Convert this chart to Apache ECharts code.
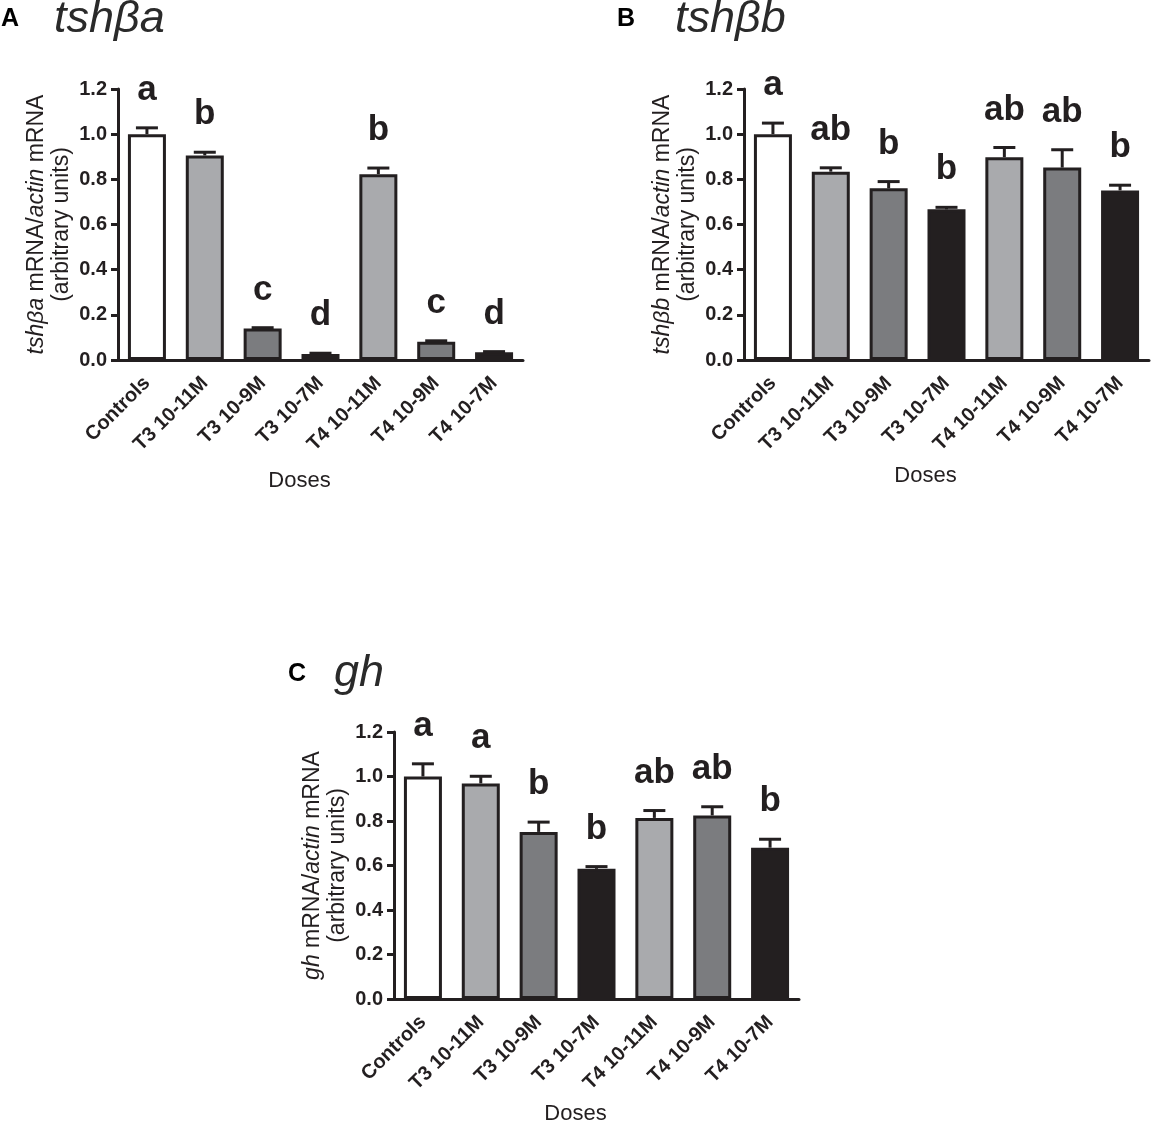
<!DOCTYPE html>
<html lang="en">
<head>
  <meta charset="UTF-8">
  <title>tshba tshbb gh</title>
  <script src="https://cdn.jsdelivr.net/npm/echarts@6/dist/echarts.min.js"></script>
  <style>
    html, body { margin: 0; padding: 0; background: #fff; }
  </style>
</head>
<body>
  <div id="chart" style="width: 1153px; height: 1126px;"></div>

  <script>
    // categories (doses)
    const doses = ['Controls', 'T3 10-11M', 'T3 10-9M', 'T3 10-7M', 'T4 10-11M', 'T4 10-9M', 'T4 10-7M']
    const yTicks = [0, 0.2, 0.4, 0.6, 0.8, 1.0, 1.2]

    // A: tshβa  (mean and mean + SEM)
    const tshbaMean = [1.00, 0.906, 0.139, 0.027, 0.823, 0.081, 0.034]
    const tshbaUpper = [1.028, 0.920, 0.143, 0.030, 0.850, 0.085, 0.037]
    const tshbaLetters = ['a', 'b', 'c', 'd', 'b', 'c', 'd']

    // B: tshβb
    const tshbbMean = [1.00, 0.834, 0.760, 0.667, 0.898, 0.852, 0.751]
    const tshbbUpper = [1.049, 0.851, 0.790, 0.676, 0.941, 0.931, 0.774]
    const tshbbLetters = ['a', 'ab', 'b', 'b', 'ab', 'ab', 'b']

    // C: gh
    const ghMean = [1.00, 0.969, 0.751, 0.585, 0.814, 0.825, 0.680]
    const ghUpper = [1.057, 1.001, 0.795, 0.595, 0.847, 0.864, 0.718]
    const ghLetters = ['a', 'a', 'b', 'b', 'ab', 'ab', 'b']

    const ink = '#231f20'
    const font = '"Liberation Sans", Arial, Helvetica, sans-serif'
    const barFill = ['#ffffff', '#a9aaad', '#7b7c7f', '#231f20', '#a9aaad', '#7b7c7f', '#231f20']

    let myChart = echarts.init(document.querySelector('#chart'))

    // one panel = grid + axes + bars + error bars/letters
    const panels = [
      { grid: { left: 118, top: 89, width: 405, height: 271 }, mean: tshbaMean, upper: tshbaUpper, letters: tshbaLetters, gene: 'tshβa', dosesGap: 110 },
      { grid: { left: 744, top: 89, width: 405, height: 271 }, mean: tshbbMean, upper: tshbbUpper, letters: tshbbLetters, gene: 'tshβb', dosesGap: 105 },
      { grid: { left: 394, top: 732, width: 405, height: 271 }, mean: ghMean, upper: ghUpper, letters: ghLetters, gene: 'gh', dosesGap: 104 }
    ]

    function errorBars(letters) {
      return function (params, api) {
        const base = api.coord([api.value(0), api.value(1)])
        const top = api.coord([api.value(0), api.value(2)])
        const cap = 11
        return {
          type: 'group',
          children: [
            { type: 'line', shape: { x1: base[0], y1: base[1], x2: top[0], y2: top[1] }, style: { stroke: ink, lineWidth: 3 } },
            { type: 'line', shape: { x1: top[0] - cap, y1: top[1], x2: top[0] + cap, y2: top[1] }, style: { stroke: ink, lineWidth: 3 } },
            {
              type: 'text', x: top[0], y: top[1] - 20,
              style: { text: letters[params.dataIndex], align: 'center', verticalAlign: 'bottom', font: 'bold 35px ' + font, fill: ink }
            }
          ]
        }
      }
    }

    let grids = [], xAxes = [], yAxes = [], series = []
    panels.forEach((p, k) => {
      grids.push(p.grid)
      xAxes.push({
        type: 'category',
        gridIndex: k,
        data: doses,
        name: 'Doses',
        nameLocation: 'middle',
        nameGap: p.dosesGap,
        nameTextStyle: { fontFamily: font, fontSize: 22, color: ink, padding: [0, 42, 0, 0] },
        axisLine: { lineStyle: { color: ink, width: 3 } },
        axisTick: { alignWithLabel: true, length: 9, lineStyle: { color: ink, width: 3 } },
        axisLabel: { interval: 0, rotate: 45, margin: 20, fontFamily: font, fontSize: 20, fontWeight: 'bold', color: ink }
      })
      yAxes.push({
        type: 'value',
        gridIndex: k,
        min: yTicks[0],
        max: yTicks[yTicks.length - 1],
        interval: 0.2,
        name: '{i|' + p.gene + '} mRNA/{i|actin} mRNA\n(arbitrary units)',
        nameLocation: 'middle',
        nameRotate: 90,
        nameGap: 44,
        nameTextStyle: {
          fontFamily: font, fontSize: 23, lineHeight: 25, color: ink,
          rich: { i: { fontFamily: font, fontSize: 23, lineHeight: 25, fontStyle: 'italic', color: ink } }
        },
        splitLine: { show: false },
        axisLine: { show: true, lineStyle: { color: ink, width: 3 } },
        axisTick: { show: true, length: 7, lineStyle: { color: ink, width: 3 } },
        axisLabel: { margin: 11, fontFamily: font, fontSize: 20, fontWeight: 'bold', color: ink, formatter: v => v.toFixed(1) }
      })
      series.push({
        type: 'bar',
        xAxisIndex: k,
        yAxisIndex: k,
        barWidth: 38,
        data: p.mean.map((v, i) => ({ value: v, itemStyle: { color: barFill[i] } })),
        itemStyle: { borderColor: ink, borderWidth: 3 }
      })
      series.push({
        type: 'custom',
        xAxisIndex: k,
        yAxisIndex: k,
        z: 5,
        renderItem: errorBars(p.letters),
        encode: { x: 0, y: [1, 2] },
        data: p.mean.map((v, i) => [i, v, p.upper[i]])
      })
    })

    let options = {
      animation: false,
      backgroundColor: '#fff',
      title: [
        { text: 'A', left: 1, top: 7, padding: 0, textStyle: { fontFamily: font, fontSize: 25, fontWeight: 'bold', color: '#000' } },
        { text: 'tshβa', left: 54, top: -3, padding: 0, textStyle: { fontFamily: font, fontSize: 45, fontStyle: 'italic', fontWeight: 'normal', color: '#2a2a2a' } },
        { text: 'B', left: 617, top: 7, padding: 0, textStyle: { fontFamily: font, fontSize: 25, fontWeight: 'bold', color: '#000' } },
        { text: 'tshβb', left: 675, top: -3, padding: 0, textStyle: { fontFamily: font, fontSize: 45, fontStyle: 'italic', fontWeight: 'normal', color: '#2a2a2a' } },
        { text: 'C', left: 288, top: 662, padding: 0, textStyle: { fontFamily: font, fontSize: 25, fontWeight: 'bold', color: '#000' } },
        { text: 'gh', left: 334, top: 651, padding: 0, textStyle: { fontFamily: font, fontSize: 45, fontStyle: 'italic', fontWeight: 'normal', color: '#2a2a2a' } }
      ],
      grid: grids,
      xAxis: xAxes,
      yAxis: yAxes,
      series: series
    }
    myChart.setOption(options)
  </script>
</body>
</html>
